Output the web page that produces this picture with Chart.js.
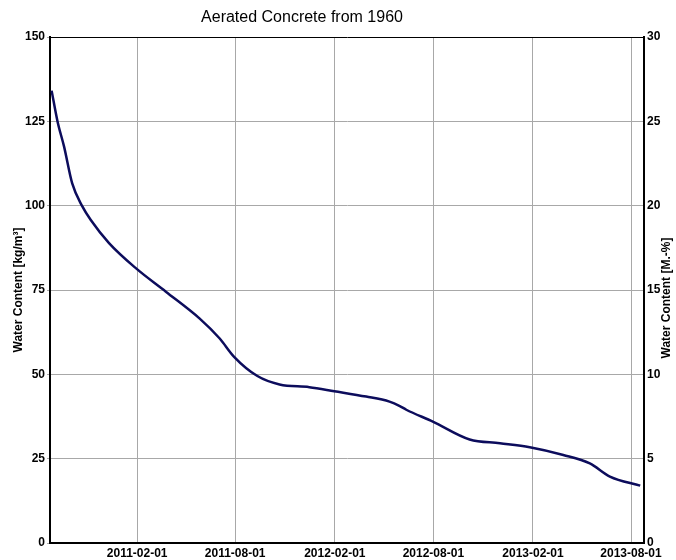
<!DOCTYPE html>
<html><head><meta charset="utf-8">
<script src="https://cdn.jsdelivr.net/npm/chart.js@4/dist/chart.umd.min.js"></script>
<style>html,body{margin:0;padding:0;background:#fff}canvas{display:block}</style>
</head><body>
<canvas id="c" width="676" height="560"></canvas>
<script>
const chartTitle = "Aerated Concrete from 1960";
const leftAxisTitle = "Water Content [kg/m³]";
const rightAxisTitle = "Water Content [M.-%]";
const tickDates = ["2011-02-01","2011-08-01","2012-02-01","2012-08-01","2013-02-01","2013-08-01"];
// days since 2011-02-01
const dayOffsets = [-158,-147,-135,-120,-101,-86,-52,-2,53,115,152,179,222,263,318,364,423,466,485,497,546,614,670,725,787,836,873,929];
// water content in kg/m³
const waterContent = [134.1,124.9,117.5,106.6,99.7,95.8,88.9,81.4,74.5,66.6,60.7,55.2,49.5,47.0,46.2,45.0,43.4,41.9,40.6,39.5,36.0,30.7,29.6,28.4,26.1,23.6,19.7,17.0];
const xRange = [-161, 936];
const leftRange = [0, 150, 25];
const rightRange = [0, 30, 5];

const base = Date.UTC(2011,1,1);
const tickDays = tickDates.map(d => {const [y,m,dd] = d.split('-').map(Number); return Math.round((Date.UTC(y,m-1,dd)-base)/86400000);});
const FONT = "'Liberation Sans', Arial, sans-serif";

const titlePlugin = {
  id: 'customTitles',
  afterDraw(chart) {
    const ctx = chart.ctx;
    ctx.save();
    ctx.fillStyle = '#000';
    ctx.textAlign = 'center';
    ctx.textBaseline = 'middle';
    ctx.font = "16px " + FONT;
    ctx.fillText(chartTitle, 302, 18);
    ctx.font = "bold 12px " + FONT;
    ctx.translate(667, 298);
    ctx.rotate(-Math.PI/2);
    ctx.fillText(rightAxisTitle, 0, 0);
    ctx.restore();
  }
};

new Chart(document.getElementById('c'), {
  type: 'line',
  data: {
    datasets: [{
      data: dayOffsets.map((d,i) => ({x: d, y: waterContent[i]})),
      borderColor: '#0c0c5c',
      borderWidth: 2.5,
      pointRadius: 0,
      cubicInterpolationMode: 'monotone',
      fill: false,
      yAxisID: 'y'
    }]
  },
  options: {
    responsive: false,
    animation: false,
    devicePixelRatio: 1,
    layout: {padding: {top: 37, left: 0, right: 0, bottom: 0}},
    plugins: {legend: {display: false}, title: {display: false}, tooltip: {enabled: false}},
    scales: {
      x: {
        type: 'linear',
        min: xRange[0], max: xRange[1],
        afterBuildTicks: s => { s.ticks = tickDays.map(v => ({value: v})); },
        afterFit: s => { s.height = 17; },
        grid: {color: '#a8a8a8', lineWidth: 1, drawTicks: false},
        border: {color: '#000', width: 2},
        ticks: {
          autoSkip: false, maxRotation: 0, padding: 3, color: '#000',
          font: {family: FONT, size: 12, weight: 'bold'},
          callback: v => { const i = tickDays.indexOf(v); return i >= 0 ? tickDates[i] : ''; }
        }
      },
      y: {
        position: 'left',
        min: leftRange[0], max: leftRange[1],
        afterFit: s => { s.width = 50; },
        grid: {
          color: c => c.tick && c.tick.value === leftRange[1] ? '#000' : '#a8a8a8',
          lineWidth: 1, drawTicks: true, tickLength: 3, tickColor: '#a8a8a8'
        },
        border: {color: '#000', width: 2},
        ticks: {stepSize: leftRange[2], padding: 2, color: '#000', font: {family: FONT, size: 12, weight: 'bold'}},
        title: {display: true, text: leftAxisTitle, color: '#000', font: {family: FONT, size: 12, weight: 'bold'}, padding: {top: 11, bottom: 0}}
      },
      y2: {
        position: 'right',
        min: rightRange[0], max: rightRange[1],
        afterFit: s => { s.width = 32; },
        grid: {display: false, drawOnChartArea: false, drawTicks: false},
        border: {color: '#000', width: 2},
        ticks: {stepSize: rightRange[2], padding: 3, color: '#000', font: {family: FONT, size: 12, weight: 'bold'}}
      }
    }
  },
  plugins: [titlePlugin]
});
</script>
</body></html>
